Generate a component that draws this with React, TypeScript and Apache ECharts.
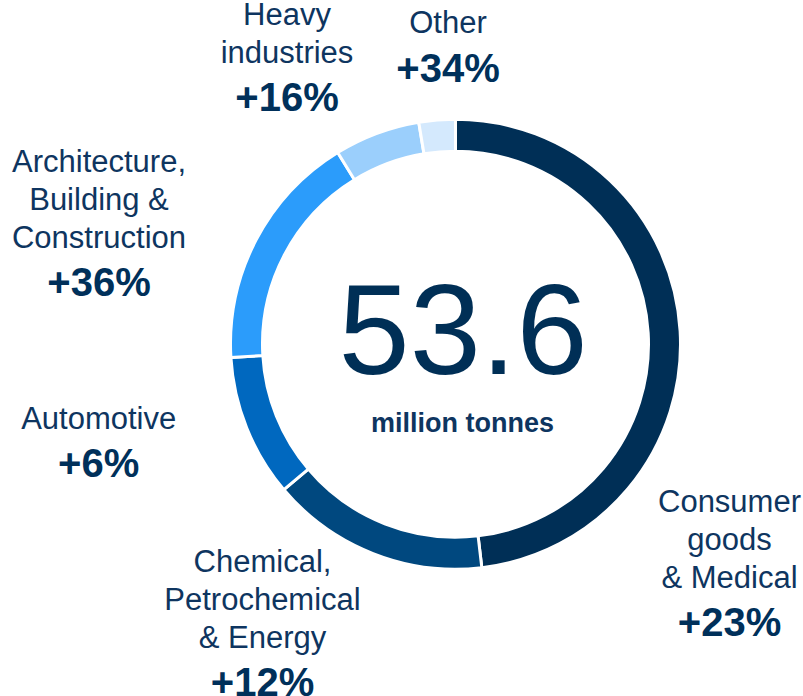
import React, { useEffect, useRef } from 'react';
import * as echarts from 'echarts';

// ---- data ----
const categories = [
  'Consumer\ngoods\n& Medical',
  'Chemical,\nPetrochemical\n& Energy',
  'Automotive',
  'Architecture,\nBuilding &\nConstruction',
  'Heavy\nindustries',
  'Other',
];
const volumes = [25.8, 8.4, 5.5, 9.2, 3.3, 1.4]; // million tonnes
const growth = [23, 12, 6, 36, 16, 34]; // % growth
const unitLabel = 'million tonnes';

// ---- styles / layout ----
const sliceColors = ['#002f56', '#00487f', '#0068bf', '#2b9cfb', '#9bcffc', '#d4e9fd'];
const labelAnchors: [number, number][] = [
  [729.5, 482],
  [262.5, 542],
  [98.7, 399.3],
  [99, 142],
  [287, -4.7],
  [448, 3.6],
];
const FONT = '"Liberation Sans", Arial, sans-serif';

export default function App() {
  const ref = useRef<HTMLDivElement>(null);
  useEffect(() => {
    if (!ref.current) return;
    const chart = echarts.init(ref.current, null, { renderer: 'svg' });
    const total = volumes.reduce((a, b) => a + b, 0);
    chart.setOption({
      animation: false,
      backgroundColor: '#ffffff',
      series: [
        {
          type: 'pie',
          center: [455.5, 344.2],
          radius: [193, 225],
          startAngle: 90,
          clockwise: true,
          avoidLabelOverlap: false,
          silent: true,
          itemStyle: { borderColor: '#ffffff', borderWidth: 3 },
          label: {
            show: true,
            position: 'outside',
            align: 'center',
            formatter: (p: any) => `{n|${p.name}}\n{p|+${growth[p.dataIndex]}%}`,
            rich: {
              n: { fontFamily: FONT, fontSize: 31, lineHeight: 38, color: '#0e3560', align: 'center' },
              p: { fontFamily: FONT, fontSize: 40, fontWeight: 'bold', lineHeight: 52, color: '#00305a', align: 'center' },
            },
          },
          labelLine: { show: false },
          labelLayout: (params: any) => ({
            x: labelAnchors[params.dataIndex][0],
            y: labelAnchors[params.dataIndex][1],
            align: 'center',
            verticalAlign: 'top',
          }),
          data: categories.map((name, i) => ({
            name,
            value: volumes[i],
            itemStyle: { color: sliceColors[i] },
          })),
        },
      ],
      graphic: [
        {
          type: 'text',
          x: 463,
          y: 329.6,
          style: {
            text: total.toFixed(1),
            fontFamily: FONT,
            fontSize: 128,
            fill: '#002f56',
            align: 'center',
            verticalAlign: 'middle',
          },
        },
        {
          type: 'text',
          x: 462.5,
          y: 423.3,
          style: {
            text: unitLabel,
            fontFamily: FONT,
            fontSize: 27,
            fontWeight: 'bold',
            fill: '#0e3560',
            align: 'center',
            verticalAlign: 'middle',
          },
        },
      ],
    });
    return () => chart.dispose();
  }, []);
  return (
    <div
      ref={ref}
      style={{ position: 'fixed', left: 0, top: 0, width: 803, height: 696 }}
    />
  );
}
